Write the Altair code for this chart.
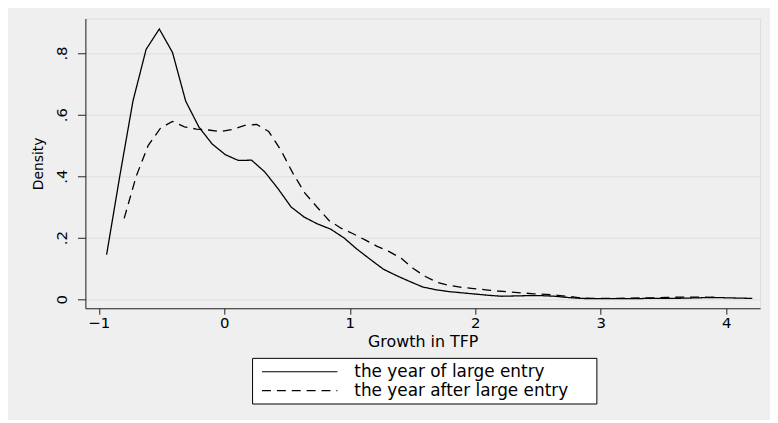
import altair as alt
import pandas as pd

series_names = ["the year of large entry", "the year after large entry"]

x_entry = [-0.938, -0.833, -0.728, -0.623, -0.518, -0.413, -0.308, -0.203, -0.098, 0.007,
           0.112, 0.217, 0.322, 0.427, 0.532, 0.637, 0.742, 0.847, 0.952, 1.057,
           1.162, 1.267, 1.372, 1.477, 1.582, 1.687, 1.792, 1.897, 2.002, 2.107,
           2.212, 2.317, 2.422, 2.527, 2.632, 2.737, 2.842, 2.947, 3.052, 3.157,
           3.262, 3.367, 3.472, 3.577, 3.682, 3.787, 3.892, 3.997, 4.102, 4.207]
y_entry = [0.145, 0.400, 0.644, 0.812, 0.878, 0.802, 0.644, 0.560, 0.505, 0.470,
           0.451, 0.452, 0.414, 0.360, 0.300, 0.267, 0.245, 0.228, 0.200, 0.163,
           0.130, 0.098, 0.077, 0.058, 0.040, 0.031, 0.025, 0.021, 0.017, 0.013,
           0.010, 0.011, 0.012, 0.012, 0.010, 0.006, 0.003, 0.002, 0.002, 0.002,
           0.002, 0.003, 0.003, 0.003, 0.004, 0.005, 0.006, 0.005, 0.004, 0.003]

x_after = [-0.798, -0.702, -0.606, -0.510, -0.414, -0.318, -0.222, -0.126, -0.030, 0.066,
           0.162, 0.258, 0.354, 0.450, 0.546, 0.642, 0.738, 0.834, 0.930, 1.026,
           1.122, 1.218, 1.314, 1.410, 1.506, 1.602, 1.698, 1.794, 1.890, 1.986,
           2.082, 2.178, 2.274, 2.370, 2.466, 2.562, 2.658, 2.754, 2.850, 2.946,
           3.042, 3.138, 3.234, 3.330, 3.426, 3.522, 3.618, 3.714, 3.810, 3.906]
y_after = [0.263, 0.400, 0.500, 0.555, 0.578, 0.560, 0.553, 0.550, 0.545, 0.552,
           0.565, 0.568, 0.545, 0.485, 0.410, 0.345, 0.300, 0.256, 0.231, 0.213,
           0.193, 0.172, 0.155, 0.133, 0.100, 0.074, 0.055, 0.045, 0.039, 0.035,
           0.031, 0.027, 0.024, 0.021, 0.018, 0.016, 0.013, 0.009, 0.004, 0.003,
           0.003, 0.003, 0.004, 0.005, 0.005, 0.006, 0.007, 0.007, 0.007, 0.006]

x_ticks = [-1, 0, 1, 2, 3, 4]
y_ticks = [0, 0.2, 0.4, 0.6, 0.8]

df = pd.concat([
    pd.DataFrame({"x": x_entry, "y": y_entry, "series": series_names[0]}),
    pd.DataFrame({"x": x_after, "y": y_after, "series": series_names[1]}),
], ignore_index=True)

FONT = "DejaVu Sans"

chart = alt.Chart(df).mark_line(color="black", strokeWidth=1.3).encode(
    x=alt.X(
        "x:Q",
        scale=alt.Scale(domain=[-1.107, 4.269], nice=False, zero=False),
        axis=alt.Axis(
            values=x_ticks, title="Growth in TFP", grid=False,
            tickSize=6, tickColor="#222", domainColor="#222",
            labelPadding=13, labelBaseline="alphabetic", labelFontSize=15,
            labelFont=FONT, labelColor="black",
            labelExpr="datum.value < 0 ? '\u2212' + format(-datum.value, 'd') : format(datum.value, 'd')",
            titleY=39, titleBaseline="alphabetic", titleFontSize=16,
            titleFont=FONT, titleFontWeight="normal", titleColor="black",
        ),
    ),
    y=alt.Y(
        "y:Q",
        scale=alt.Scale(domain=[-0.029, 0.912], nice=False, zero=False),
        axis=alt.Axis(
            values=y_ticks, title="Density", grid=True,
            gridColor="#e4e4e4", gridWidth=1.5,
            tickSize=8, tickColor="#222", domainColor="#222",
            labelAngle=270, labelAlign="center", labelBaseline="alphabetic",
            labelPadding=11, labelFontSize=15, labelFont=FONT, labelColor="black",
            labelExpr="datum.value == 0 ? '0' : replace(format(datum.value, '.1f'), '0.', '.')",
            titleAngle=270, titleAlign="center", titleBaseline="alphabetic",
            titleX=-43, titleY=146, titleFontSize=14, titleFont=FONT,
            titleFontWeight="normal", titleColor="black",
        ),
    ),
    strokeDash=alt.StrokeDash(
        "series:N",
        scale=alt.Scale(domain=series_names, range=[[1, 0], [9, 6]]),
        legend=alt.Legend(
            orient="none", legendX=168, legendY=342,
            title="\u00a0", titleOrient="right", titlePadding=23,
            titleFontSize=17,
            symbolType="M-4.75,0L4.75,0", symbolSize=256,
            symbolStrokeWidth=1.2, symbolStrokeColor="black",
            symbolFillColor="transparent",
            symbolOffset=34, labelOffset=46, labelLimit=400,
            labelFont=FONT, labelFontSize=17, labelColor="black",
            padding=5, rowPadding=2,
            fillColor="white", strokeColor="black",
        ),
    ),
).properties(
    width=680, height=292,
    autosize=alt.AutoSizeParams(type="none"),
    padding={"left": 78, "top": 9, "right": 10, "bottom": 111},
    background="#efefef",
).configure_view(fill="white", stroke="transparent").configure(font=FONT)

chart.save("out.html", embed_options={"renderer": "svg", "actions": False})
